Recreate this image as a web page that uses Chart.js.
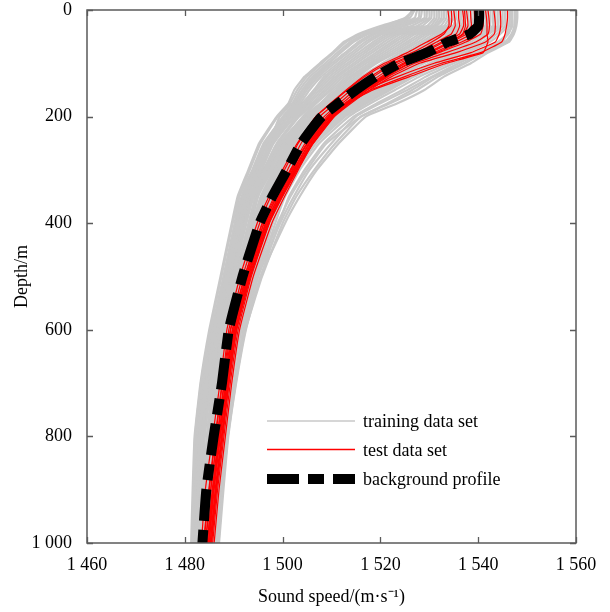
<!DOCTYPE html>
<html><head><meta charset="utf-8">
<script src="https://cdn.jsdelivr.net/npm/chart.js@4.4.1/dist/chart.umd.min.js"></script>
<style>html,body{margin:0;padding:0;background:#fff}#wrap{width:610px;height:612px;position:relative}</style>
</head><body><div id="wrap"><canvas id="c"></canvas></div>
<script>
// Depth levels (m) shared by every profile
const DEPTH = [0, 15, 30, 45, 60, 80, 100, 125, 150, 175, 200, 250, 300, 350, 400, 500, 600, 700, 800, 900, 1000];
const X_TICKS = [1460, 1480, 1500, 1520, 1540, 1560];
const Y_TICKS = [0, 200, 400, 600, 800, 1000];
const LEGEND_LABELS = ['training data set', 'test data set', 'background profile'];

// background profile (sound speed, m/s)
const BACKGROUND = [1540.2, 1540.2, 1540, 1538.3, 1533.8, 1529.5, 1523.9, 1519, 1515, 1511.4, 1508, 1503.8, 1500.9, 1497.9, 1495.3, 1491.8, 1489, 1487.6, 1485.9, 1484.4, 1483.6];

// training data set profiles
const TRAIN_01 = [1527, 1526, 1521.5, 1516, 1513, 1510.5, 1508, 1505, 1503, 1501.5, 1499, 1495.5, 1493.3, 1491, 1489.8, 1487.5, 1485.2, 1483.3, 1482.1, 1481.8, 1481.5];
const TRAIN_02 = [1526.5, 1525.5, 1520, 1515.5, 1512.5, 1510.2, 1507.6, 1504.5, 1502.4, 1501.2, 1498.8, 1495.2, 1493, 1490.8, 1489.6, 1487.3, 1485, 1483.2, 1482, 1481.6, 1481.3];
const TRAIN_03 = [1527.5, 1527, 1522.5, 1516.8, 1513.8, 1511.2, 1508.7, 1505.6, 1503.5, 1502, 1499.4, 1497.3, 1494.8, 1492.4, 1491.1, 1488.7, 1486.2, 1484.3, 1483, 1482.7, 1482.2];
const TRAIN_04 = [1528, 1527.8, 1523.5, 1517.5, 1514.5, 1511.9, 1509.3, 1506.2, 1504, 1502.3, 1500.2, 1496.1, 1493.8, 1491.2, 1490.2, 1487.9, 1485.5, 1483.6, 1482.4, 1482.1, 1481.7];
const TRAIN_05 = [1529, 1529, 1525, 1519, 1516.1, 1513.4, 1510.6, 1507.3, 1505, 1503.2, 1500.5, 1496.7, 1494.3, 1492, 1490.7, 1488.3, 1485.9, 1484, 1482.7, 1482.4, 1482];
const TRAIN_06 = [1529.5, 1529.4, 1526.3, 1519.8, 1516.9, 1514.1, 1511.3, 1507.9, 1505.5, 1503.6, 1500.9, 1497, 1494.5, 1492.2, 1490.9, 1488.5, 1486, 1484.2, 1482.9, 1482.5, 1482.1];
const TRAIN_07 = [1530, 1530, 1527.5, 1520.5, 1517.6, 1514.8, 1511.9, 1508.5, 1506.4, 1504, 1501.2, 1497.3, 1495.2, 1492.5, 1491.1, 1488.7, 1486.2, 1484.3, 1483, 1482.7, 1482.3];
const TRAIN_08 = [1531, 1531, 1529.5, 1522, 1519.2, 1516.2, 1513.2, 1509.6, 1507, 1504.8, 1501.9, 1497.9, 1495.3, 1492.9, 1491.5, 1489, 1486.6, 1484.6, 1483.4, 1482.9, 1482.5];
const TRAIN_09 = [1531.5, 1531.5, 1530.2, 1522.8, 1519.9, 1516.9, 1513.8, 1510.2, 1507.5, 1505.2, 1502.3, 1498.2, 1495.6, 1493.2, 1491.7, 1489.2, 1486.8, 1484.8, 1483.6, 1483.1, 1482.6];
const TRAIN_10 = [1532, 1532, 1530.8, 1523.5, 1520.7, 1517.6, 1514.5, 1510.8, 1508, 1505.6, 1502.6, 1498, 1495.8, 1493.4, 1491.9, 1489.4, 1487.3, 1484.9, 1483.7, 1483.2, 1482.8];
const TRAIN_11 = [1533, 1533, 1531.5, 1525, 1522.3, 1519.1, 1515.8, 1511.9, 1509, 1506.5, 1503.4, 1499.1, 1496.4, 1493.9, 1492.4, 1489.8, 1487.2, 1485.3, 1484, 1483.5, 1483];
const TRAIN_12 = [1533.5, 1533.5, 1532.3, 1525.8, 1523, 1519.8, 1516.4, 1512.5, 1509.5, 1506.9, 1504.3, 1499.4, 1496.6, 1494.1, 1492.6, 1490, 1487.4, 1485.4, 1484.1, 1483.6, 1483.1];
const TRAIN_13 = [1534, 1534, 1533, 1526.5, 1523.8, 1520.5, 1517.1, 1513.1, 1510, 1506.8, 1504.1, 1499.7, 1496.9, 1494.4, 1493.2, 1490.2, 1487.5, 1485.6, 1484.6, 1483.8, 1483.3];
const TRAIN_14 = [1535, 1535, 1534, 1528, 1525.4, 1521.9, 1518.4, 1514.2, 1511, 1508.1, 1504.8, 1500.3, 1497.4, 1494.8, 1493.3, 1490.5, 1487.9, 1486, 1484.7, 1484, 1483.5];
const TRAIN_15 = [1535.5, 1535.5, 1534.8, 1528.8, 1526.1, 1522.6, 1519, 1514.8, 1511.5, 1508.5, 1505.1, 1500.6, 1497.6, 1495, 1493.5, 1490.7, 1488, 1486.1, 1484.8, 1484.1, 1483.6];
const TRAIN_16 = [1536, 1536, 1535.5, 1529.5, 1526.9, 1523.3, 1519.2, 1515.4, 1512, 1508.9, 1505.5, 1500.9, 1497.9, 1494.9, 1493.7, 1490.9, 1488.2, 1486.3, 1485, 1484.3, 1483.8];
const TRAIN_17 = [1537, 1537, 1536.5, 1531, 1528.5, 1524.8, 1521, 1516.5, 1513, 1509.8, 1506.3, 1501.5, 1498.4, 1495.8, 1494.2, 1491.3, 1488.6, 1486.7, 1485.3, 1484.6, 1484];
const TRAIN_18 = [1537.5, 1537.5, 1537, 1531.8, 1529.2, 1525.5, 1521.6, 1517.1, 1513.5, 1510.2, 1506.6, 1501.8, 1498.6, 1496, 1494.4, 1491.5, 1488.7, 1486.8, 1485.4, 1484.7, 1484.1];
const TRAIN_19 = [1538, 1538, 1537.6, 1532.5, 1530, 1526.2, 1522.3, 1517.7, 1514, 1510.6, 1507.6, 1502.1, 1498.9, 1496.3, 1494.6, 1492.2, 1488.9, 1487, 1485.6, 1484.9, 1484.3];
const TRAIN_20 = [1539, 1539, 1538.5, 1534, 1531.6, 1527.6, 1523.6, 1518.8, 1515, 1511.4, 1507.7, 1502.7, 1499.4, 1496.7, 1495, 1492, 1489.3, 1487.3, 1485.9, 1485.1, 1484.5];
const TRAIN_21 = [1539.5, 1539.5, 1539.2, 1534.8, 1532.4, 1528.3, 1524.2, 1519.4, 1515.5, 1511.8, 1508, 1503, 1499.6, 1497.3, 1495.2, 1492.2, 1489.4, 1487.4, 1486, 1485.2, 1484.6];
const TRAIN_22 = [1540, 1540, 1539.8, 1535.5, 1533.1, 1529, 1524.9, 1520, 1516.5, 1512.2, 1508.4, 1503.3, 1499.9, 1497.2, 1495.4, 1492.4, 1489.6, 1487.9, 1486.2, 1485.4, 1484.8];
const TRAIN_23 = [1541, 1541, 1540.8, 1537, 1534.7, 1530.5, 1526.2, 1521.1, 1517, 1513.1, 1509.2, 1503.9, 1500.4, 1497.7, 1495.9, 1492.8, 1490, 1488, 1486.6, 1485.7, 1485];
const TRAIN_24 = [1541.5, 1541.5, 1541.4, 1537.8, 1535.5, 1531.2, 1526.9, 1521.7, 1517.5, 1513.5, 1509.5, 1504.2, 1500.6, 1497.9, 1496.1, 1493, 1490.1, 1488.1, 1486.7, 1485.8, 1485.1];
const TRAIN_25 = [1542, 1542, 1541.9, 1538.5, 1536.2, 1531.9, 1527.5, 1521.8, 1518, 1513.9, 1509.9, 1504.5, 1501.4, 1498.2, 1496.3, 1493.2, 1490.3, 1488.3, 1486.9, 1486, 1485.3];
const TRAIN_26 = [1543, 1543, 1543, 1540, 1537.8, 1533.3, 1528.8, 1523.4, 1519, 1514.7, 1510.6, 1505.1, 1501.5, 1498.6, 1496.8, 1493.5, 1490.6, 1488.7, 1487.2, 1486.2, 1485.5];
const TRAIN_27 = [1543.5, 1543.5, 1543.5, 1540.8, 1538.5, 1534, 1528.8, 1524, 1519.5, 1515.1, 1510.9, 1505.4, 1501.7, 1498.8, 1497, 1493.7, 1490.7, 1488.8, 1487.3, 1486.3, 1485.6];
const TRAIN_28 = [1544, 1544, 1544, 1541.5, 1539.3, 1534.7, 1530.1, 1524.6, 1520, 1515.5, 1511.3, 1506.3, 1502, 1499.1, 1496.6, 1493.9, 1490.9, 1489, 1487.5, 1486.5, 1485.8];
const TRAIN_29 = [1545, 1545, 1545, 1543, 1540.9, 1536.2, 1531.4, 1525.7, 1521, 1516.4, 1512.1, 1506.3, 1502.5, 1499.6, 1497.6, 1494.3, 1491.3, 1489.3, 1487.9, 1486.8, 1486];
const TRAIN_30 = [1545.5, 1545.5, 1545.5, 1543.8, 1541.6, 1536.9, 1532, 1526.3, 1521.5, 1516.8, 1512.4, 1506.6, 1502.7, 1499.8, 1497.8, 1494.5, 1491.4, 1489.4, 1488, 1486.9, 1486.1];
const TRAIN_31 = [1546, 1546, 1546, 1544.5, 1542.4, 1537.6, 1532.7, 1526.9, 1522, 1517.2, 1512.8, 1506.9, 1503, 1500.1, 1498, 1494.7, 1491.6, 1489.6, 1488.2, 1487.1, 1486.3];
const TRAIN_32 = [1547, 1547, 1547, 1546, 1544, 1539, 1534, 1528, 1523, 1518, 1513.5, 1507.5, 1503.5, 1500.5, 1498.5, 1495, 1492, 1490, 1488.5, 1487.3, 1486.5];
const TRAIN_33 = [1546.5, 1546.5, 1546.3, 1545.8, 1545, 1541, 1537, 1531, 1526.5, 1521.5, 1516, 1509, 1505, 1501.6, 1499, 1494.8, 1492, 1490.2, 1488.7, 1487.7, 1486.8];
const TRAIN_34 = [1547.5, 1547.5, 1547.4, 1546.8, 1545.5, 1540.5, 1536, 1530.5, 1525.5, 1520, 1515, 1510, 1505.5, 1502.3, 1499.5, 1495, 1492.2, 1490.3, 1488.7, 1487.6, 1486.8];
const TRAIN_35 = [1548, 1548, 1547.8, 1547.3, 1546.3, 1542, 1538.5, 1533, 1529, 1523.5, 1517, 1511.5, 1507, 1503.5, 1500.5, 1495.5, 1492.5, 1490.5, 1488.9, 1487.9, 1487];
const TRAIN_36 = [1526.8, 1525, 1520.8, 1517, 1514.2, 1511.8, 1509.5, 1506.4, 1504.2, 1502.6, 1500, 1496.4, 1494, 1491.6, 1490.3, 1488, 1485.7, 1483.8, 1482.5, 1482.1, 1481.8];
const TRAIN_37 = [1528.5, 1528.2, 1524.5, 1518.3, 1515.5, 1512.8, 1510, 1506.8, 1504.6, 1502.9, 1500.3, 1496.5, 1494.1, 1491.8, 1490.5, 1488.1, 1485.7, 1483.8, 1482.6, 1482.3, 1481.9];
const TRAIN_38 = [1530.5, 1530.4, 1528.5, 1521.3, 1518.5, 1515.5, 1512.5, 1509, 1506.6, 1504.5, 1501.6, 1497.6, 1495, 1492.7, 1491.3, 1488.9, 1486.4, 1484.5, 1483.2, 1482.8, 1482.4];
const TRAIN_39 = [1532.5, 1532.5, 1531.2, 1524.2, 1521.5, 1518.3, 1515.1, 1511.3, 1508.5, 1506.1, 1503, 1498.8, 1496.1, 1493.7, 1492.2, 1489.6, 1487.1, 1485.1, 1483.9, 1483.4, 1482.9];
const TRAIN_40 = [1534.5, 1534.5, 1533.6, 1527.2, 1524.6, 1521.2, 1517.8, 1513.7, 1510.5, 1507.7, 1504.4, 1500, 1497.2, 1494.6, 1493, 1490.4, 1487.7, 1485.8, 1484.5, 1483.9, 1483.4];
const TRAIN_41 = [1536.5, 1536.5, 1536, 1530.2, 1527.7, 1524, 1520.4, 1516, 1512.5, 1509.4, 1505.9, 1501.2, 1498.2, 1495.5, 1493.9, 1491.1, 1488.4, 1486.5, 1485.2, 1484.5, 1483.9];
const TRAIN_42 = [1538.5, 1538.5, 1538, 1533.2, 1530.8, 1526.9, 1523, 1518.3, 1514.5, 1511, 1507.2, 1502.4, 1499.2, 1496.5, 1494.8, 1491.8, 1489.1, 1487.1, 1485.7, 1485, 1484.4];
const TRAIN_43 = [1540.5, 1540.5, 1540.3, 1536.2, 1533.9, 1529.7, 1525.6, 1520.6, 1516.5, 1512.7, 1508.8, 1503.6, 1500.2, 1497.5, 1495.7, 1492.6, 1489.8, 1487.8, 1486.4, 1485.6, 1484.9];
const TRAIN_44 = [1542.5, 1542.5, 1542.4, 1539.2, 1537, 1532.6, 1528.2, 1522.9, 1518.5, 1514.3, 1510.3, 1504.8, 1501.2, 1498.4, 1496.5, 1493.4, 1490.5, 1488.5, 1487, 1486.1, 1485.4];
const TRAIN_45 = [1544.5, 1544.5, 1544.5, 1542.2, 1540.1, 1535.5, 1530.8, 1525.2, 1520.5, 1516, 1511.7, 1505.9, 1502.2, 1499.4, 1497.3, 1494.1, 1491.1, 1489.1, 1487.7, 1486.7, 1485.9];
const TRAIN_46 = [1546.8, 1546.8, 1546.7, 1546.2, 1544.5, 1539.8, 1535, 1529.3, 1524.5, 1519.3, 1514.5, 1508.5, 1504.5, 1501.3, 1499.3, 1495.5, 1492.3, 1490.3, 1488.7, 1487.5, 1486.7];
const TRAIN_47 = [1547.8, 1547.8, 1547.6, 1547, 1546, 1541.3, 1537.3, 1531.8, 1527.5, 1522, 1516, 1510.8, 1506.5, 1502.8, 1500, 1495.8, 1492.4, 1490.4, 1488.8, 1487.7, 1486.9];

// test data set profiles
const TEST_01 = [1533.8, 1534, 1534, 1533, 1530.5, 1526.5, 1521.5, 1516.8, 1513.2, 1510, 1506.8, 1503, 1500, 1497.2, 1494.8, 1491.3, 1488.6, 1487.2, 1485.7, 1484.2, 1483.4];
const TEST_02 = [1535, 1535.2, 1535.3, 1534.5, 1531.5, 1527.5, 1522.5, 1518, 1514, 1510.8, 1507.6, 1503.8, 1501, 1498.3, 1495.8, 1492.3, 1489.4, 1488, 1486.6, 1485.3, 1484.3];
const TEST_03 = [1536, 1536, 1536.2, 1535.5, 1532.5, 1528.2, 1523, 1518.6, 1514.8, 1511.6, 1508.5, 1504.6, 1501.6, 1498.8, 1496.2, 1492.6, 1489.8, 1488.3, 1486.9, 1485.6, 1484.6];
const TEST_04 = [1536.8, 1537, 1537, 1536.2, 1533, 1528.8, 1523.8, 1519.5, 1515.6, 1512.2, 1509, 1505, 1502, 1499.2, 1496.6, 1493, 1490.2, 1488.6, 1487.2, 1485.9, 1484.9];
const TEST_05 = [1537.6, 1537.8, 1537.9, 1537, 1534, 1529.6, 1524.6, 1520.2, 1516.3, 1512.8, 1509.5, 1505.4, 1502.4, 1499.6, 1497, 1493.3, 1490.6, 1489, 1487.6, 1486.3, 1485.2];
const TEST_06 = [1538.4, 1538.5, 1538.6, 1537.6, 1534.6, 1530.2, 1525.2, 1520.6, 1516.5, 1513, 1509.7, 1505.5, 1502.2, 1499.3, 1496.5, 1492.8, 1490, 1488.4, 1487, 1485.7, 1484.6];
const TEST_07 = [1539.2, 1539.3, 1539.4, 1538.5, 1535.5, 1531, 1525.8, 1521.2, 1517, 1513.2, 1509.6, 1505.2, 1501.8, 1498.9, 1496.2, 1492.5, 1489.7, 1488.1, 1486.7, 1485.3, 1484.2];
const TEST_08 = [1540.8, 1541, 1541, 1540.5, 1537.5, 1532, 1526.2, 1521, 1516.6, 1512.8, 1509.3, 1505, 1501.6, 1498.6, 1495.9, 1492.2, 1489.3, 1487.7, 1486.3, 1485, 1483.9];
const TEST_09 = [1542, 1542.2, 1542.3, 1542, 1539.5, 1533.5, 1527, 1521.6, 1517.2, 1513.5, 1510, 1505.8, 1502.5, 1499.5, 1496.8, 1493, 1490.3, 1488.8, 1487.5, 1486.2, 1485.2];
const TEST_10 = [1543.2, 1543.4, 1543.5, 1543.3, 1541.5, 1535.5, 1528, 1522.3, 1517.8, 1514, 1510.6, 1506.3, 1503, 1500, 1497.3, 1493.6, 1490.9, 1489.3, 1488, 1486.7, 1485.7];
const TEST_11 = [1544.5, 1544.6, 1544.6, 1544.3, 1543.5, 1538.5, 1531, 1523.5, 1517, 1512.8, 1510.2, 1506, 1502.7, 1499.8, 1497.2, 1493.4, 1490.5, 1489, 1487.6, 1486.4, 1485.4];
const TEST_12 = [1546, 1546, 1545.8, 1545.5, 1544.8, 1540.5, 1532.5, 1525, 1518, 1513.5, 1510.5, 1506.2, 1502.8, 1499.8, 1497, 1493.2, 1490.3, 1488.7, 1487.3, 1486, 1485];
const TEST_13 = [1541.5, 1541.7, 1541.8, 1541.8, 1542, 1541, 1533.5, 1526, 1518.5, 1513.2, 1510, 1505.6, 1502.2, 1499.2, 1496.6, 1492.8, 1490, 1488.5, 1487.1, 1485.8, 1484.8];
const TEST_14 = [1534.5, 1534.6, 1534.4, 1532.5, 1529.5, 1525.5, 1520.8, 1516.4, 1513, 1509.8, 1506.8, 1503.2, 1500.4, 1497.6, 1495.3, 1491.8, 1489, 1487.6, 1486.2, 1484.9, 1483.8];
const TEST_15 = [1537.2, 1537.3, 1537.4, 1536.8, 1534.2, 1530, 1525, 1520.8, 1517, 1513.6, 1510.3, 1506.2, 1503.2, 1500.4, 1497.8, 1494, 1491.2, 1489.6, 1488.3, 1487, 1486];
const TEST_16 = [1539.8, 1540, 1540, 1539.6, 1536.6, 1531.5, 1526, 1521.3, 1517.3, 1513.6, 1510.2, 1506, 1502.8, 1499.9, 1497.2, 1493.4, 1490.6, 1489, 1487.8, 1486.5, 1485.5];

const TRAINING_SET = [TRAIN_01, TRAIN_02, TRAIN_03, TRAIN_04, TRAIN_05, TRAIN_06, TRAIN_07, TRAIN_08, TRAIN_09, TRAIN_10,
  TRAIN_11, TRAIN_12, TRAIN_13, TRAIN_14, TRAIN_15, TRAIN_16, TRAIN_17, TRAIN_18, TRAIN_19, TRAIN_20,
  TRAIN_21, TRAIN_22, TRAIN_23, TRAIN_24, TRAIN_25, TRAIN_26, TRAIN_27, TRAIN_28, TRAIN_29, TRAIN_30,
  TRAIN_31, TRAIN_32, TRAIN_33, TRAIN_34, TRAIN_35, TRAIN_36, TRAIN_37, TRAIN_38, TRAIN_39, TRAIN_40,
  TRAIN_41, TRAIN_42, TRAIN_43, TRAIN_44, TRAIN_45, TRAIN_46, TRAIN_47];
const TEST_SET = [TEST_01, TEST_02, TEST_03, TEST_04, TEST_05, TEST_06, TEST_07, TEST_08,
  TEST_09, TEST_10, TEST_11, TEST_12, TEST_13, TEST_14, TEST_15, TEST_16];

const GRAY = 'rgb(200,200,200)', RED = 'rgb(255,0,0)', BLACK = '#000';
const DASH = [32, 9, 16, 9];
const FONT = "'Liberation Serif', 'Times New Roman', serif";

function fmt(v) {
  return v >= 1000 ? Math.floor(v / 1000) + ' ' + String(v % 1000).padStart(3, '0') : String(v);
}
function mk(arr, color, width, order, dash) {
  return {
    data: arr.map((v, i) => ({x: v, y: DEPTH[i]})),
    borderColor: color, borderWidth: width, borderDash: dash || [],
    pointRadius: 0, tension: 0.12, fill: false, clip: 0, order: order,
    borderCapStyle: 'butt', borderJoinStyle: 'round'
  };
}

const datasets = [mk(BACKGROUND, BLACK, 10, 0, DASH)]
  .concat(TEST_SET.map(a => mk(a, RED, 1.2, 1)))
  .concat(TRAINING_SET.map(a => mk(a, GRAY, 2.2, 2)));

const framePlugin = {
  id: 'frame',
  afterDatasetsDraw(chart) {
    const {ctx, chartArea: a, scales: {x, y}} = chart;
    ctx.save();
    ctx.strokeStyle = '#5a5a5a';
    ctx.lineWidth = 1.5;
    ctx.strokeRect(a.left, a.top, a.right - a.left, a.bottom - a.top);
    ctx.lineWidth = 1.3;
    ctx.beginPath();
    const tl = 6;
    X_TICKS.forEach(v => {
      const px = Math.round(x.getPixelForValue(v)) + 0.5;
      ctx.moveTo(px, a.bottom); ctx.lineTo(px, a.bottom - tl);
      ctx.moveTo(px, a.top); ctx.lineTo(px, a.top + tl);
    });
    Y_TICKS.forEach(v => {
      const py = Math.round(y.getPixelForValue(v)) + 0.5;
      ctx.moveTo(a.left, py); ctx.lineTo(a.left + tl, py);
      ctx.moveTo(a.right, py); ctx.lineTo(a.right - tl, py);
    });
    ctx.stroke();

    // legend inside the plot area
    const lx0 = a.left + 180, lx1 = a.left + 268, tx = a.left + 276;
    const rows = [a.top + 411, a.top + 439.5, a.top + 469];
    const styles = [[GRAY, 1.5, []], [RED, 1.6, []], [BLACK, 10, DASH]];
    ctx.font = '18px ' + FONT;
    ctx.textBaseline = 'middle';
    ctx.textAlign = 'left';
    rows.forEach((ry, i) => {
      ctx.beginPath();
      ctx.strokeStyle = styles[i][0];
      ctx.lineWidth = styles[i][1];
      ctx.setLineDash(styles[i][2]);
      ctx.lineCap = 'butt';
      ctx.moveTo(lx0, ry); ctx.lineTo(lx1, ry);
      ctx.stroke();
      ctx.setLineDash([]);
      ctx.fillStyle = '#000';
      ctx.fillText(LEGEND_LABELS[i], tx, ry + 1.5);
    });
    ctx.restore();
  }
};

new Chart(document.getElementById('c'), {
  type: 'line',
  data: {datasets},
  options: {
    responsive: true, maintainAspectRatio: false, animation: false,
    devicePixelRatio: 1,
    indexAxis: 'y',
    layout: {padding: {top: 10, right: 34, bottom: 0, left: 0}},
    plugins: {legend: {display: false}, tooltip: {enabled: false}},
    scales: {
      x: {
        type: 'linear', position: 'bottom', min: 1460, max: 1560,
        afterFit(s) { s.height = 69; s.paddingLeft = 0; s.paddingRight = 0; },
        afterBuildTicks(s) { s.ticks = X_TICKS.map(v => ({value: v})); },
        grid: {display: false, drawTicks: false},
        border: {display: false},
        ticks: {color: '#000', font: {family: FONT, size: 18}, padding: 11, maxRotation: 0, autoSkip: false,
          callback: v => fmt(v)},
        title: {display: true, text: 'Sound speed/(m·s⁻¹)', color: '#000', font: {family: FONT, size: 18}, padding: {top: 0, bottom: 4}}
      },
      y: {
        type: 'linear', position: 'left', min: 0, max: 1000, reverse: true,
        afterFit(s) { s.width = 87; s.paddingTop = 0; s.paddingBottom = 0; },
        afterBuildTicks(s) { s.ticks = Y_TICKS.map(v => ({value: v})); },
        grid: {display: false, drawTicks: false},
        border: {display: false},
        ticks: {color: '#000', font: {family: FONT, size: 18}, padding: 15, autoSkip: false,
          callback: v => fmt(v)},
        title: {display: true, text: 'Depth/m', color: '#000', font: {family: FONT, size: 18}, padding: {top: 11, bottom: 0}}
      }
    }
  },
  plugins: [framePlugin]
});
</script>
</body></html>
